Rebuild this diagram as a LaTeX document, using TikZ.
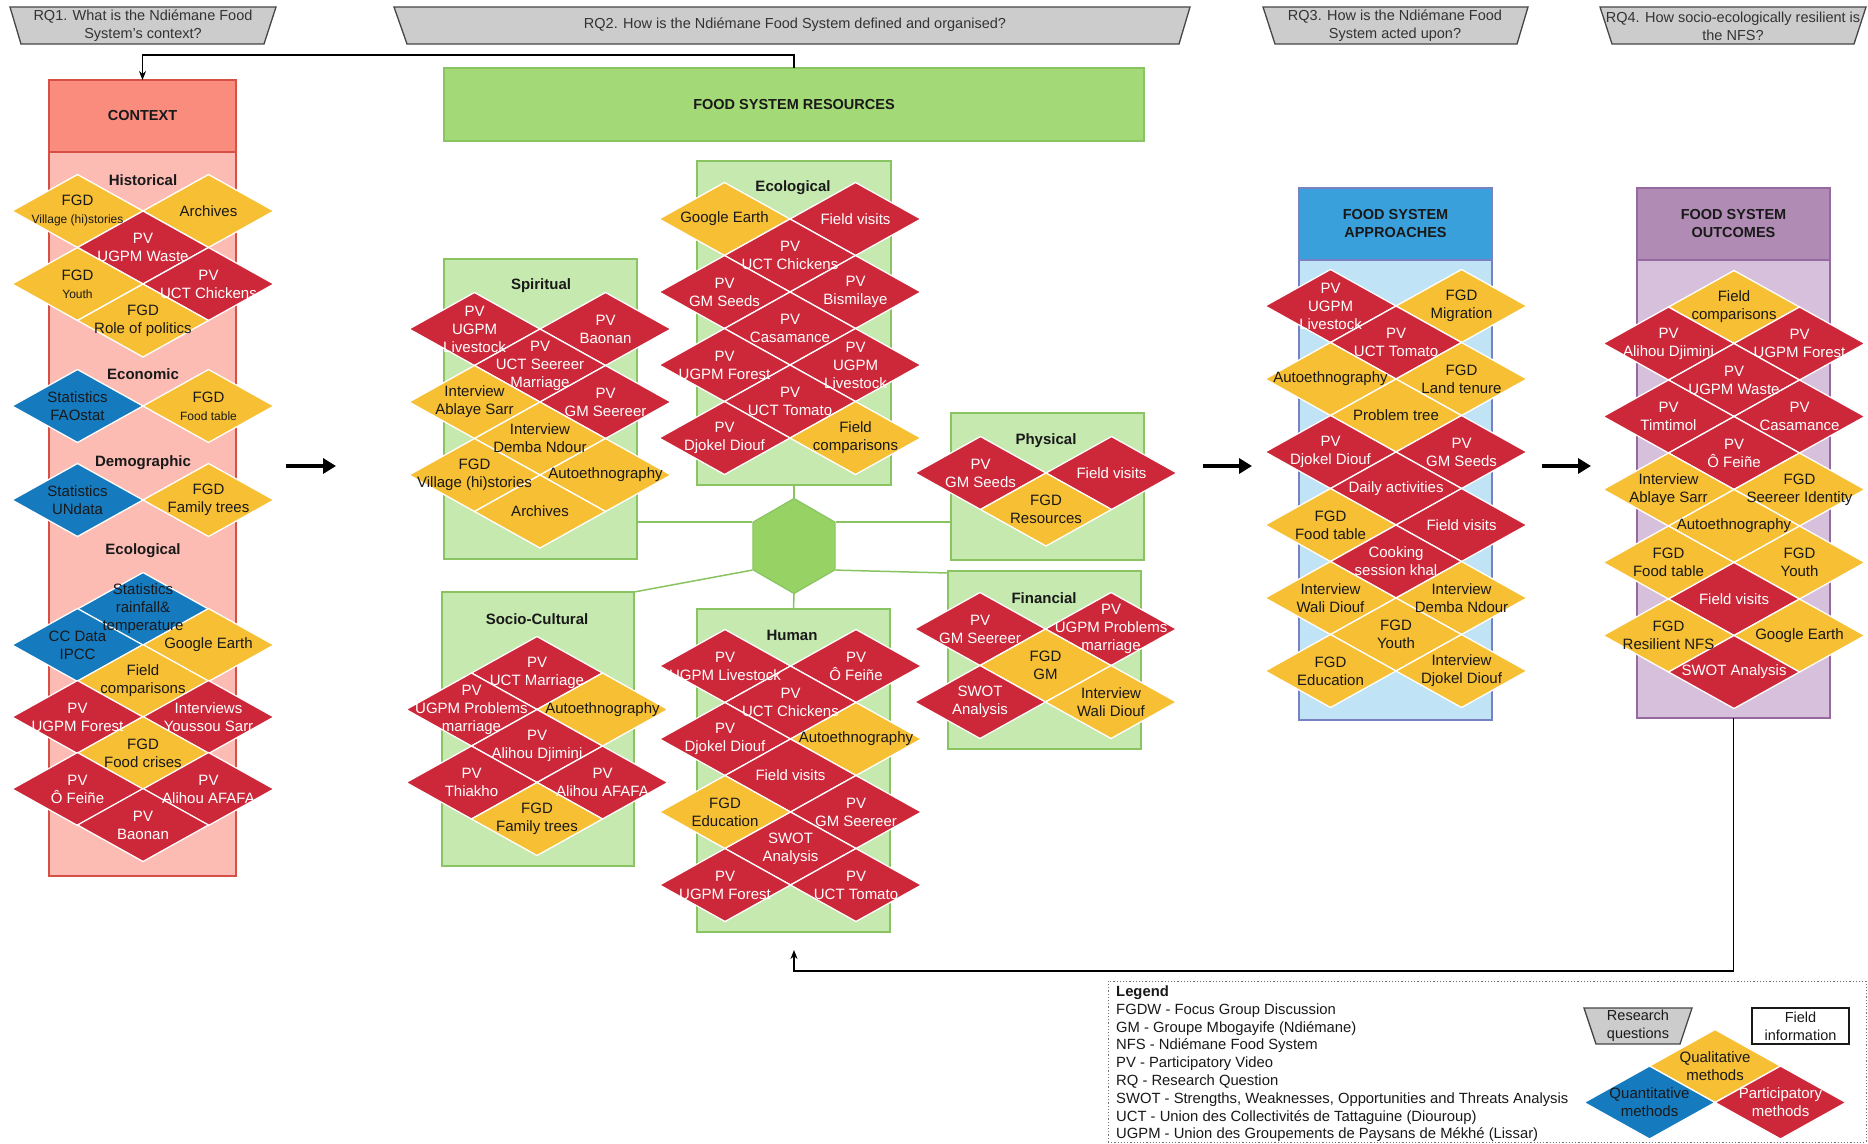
\documentclass[tikz,border=0pt]{standalone}
\usepackage{fontspec}
\setmainfont{Liberation Sans}
\usetikzlibrary{arrows.meta,shapes.geometric}
\pgfdeclarelayer{bg}\pgfdeclarelayer{dia}
\pgfsetlayers{bg,dia,main}
\definecolor{cy}{RGB}{246,191,52}
\definecolor{cr}{RGB}{204,40,58}
\definecolor{cb}{RGB}{22,122,190}
\definecolor{ink}{RGB}{25,25,25}
\definecolor{ctxh}{RGB}{249,140,125}
\definecolor{ctxb}{RGB}{252,188,180}
\definecolor{ctxd}{RGB}{215,80,70}
\definecolor{grh}{RGB}{163,217,119}
\definecolor{grl}{RGB}{198,233,176}
\definecolor{grd}{RGB}{138,196,98}
\definecolor{hexf}{RGB}{150,210,100}
\definecolor{aph}{RGB}{57,160,220}
\definecolor{apb}{RGB}{192,228,246}
\definecolor{apd}{RGB}{120,130,195}
\definecolor{ouh}{RGB}{176,140,180}
\definecolor{oub}{RGB}{215,192,220}
\definecolor{oud}{RGB}{150,105,160}
\definecolor{rqf}{RGB}{204,204,204}
\definecolor{rqd}{RGB}{70,70,70}
\newcommand\fs[2]{\fontsize{#1}{#2}\selectfont}
\newcommand\sm[1]{{\fs{12}{14}#1}}
\newcommand\dmd[6]{%
  \begin{pgfonlayer}{dia}
  \fill[#1, draw=white, line width=1.3pt] ({#4-65.5},#5) -- (#4,{#5-36.5}) -- ({#4+65.5},#5) -- (#4,{#5+36.5}) -- cycle;
  \end{pgfonlayer}
  \node[dtext, text=#2] (#3) at (#4,#5) {#6};}
\newcommand\qlm[4]{\dmd{cy}{ink}{#1}{#2}{#3}{#4}}
\newcommand\ptm[4]{\dmd{cr}{white}{#1}{#2}{#3}{#4}}
\newcommand\qnm[4]{\dmd{cb}{ink}{#1}{#2}{#3}{#4}}
\begin{document}
\begin{tikzpicture}[x=1pt,y=-1pt,
  dtext/.style={font=\fs{15}{18}, align=center, inner sep=0pt},
  lab/.style={font=\bfseries\fs{15}{18}, inner sep=0pt, text=ink},
  box/.style={rectangle, inner sep=0pt, outer sep=0pt, line width=1.2pt},
  gbox/.style={box, fill=grl, draw=grd},
  hdr/.style={font=\bfseries\fs{14.5}{18}, align=center, text=ink},
  rq/.style={fill=rqf, draw=rqd, line width=1.3pt},
  rqt/.style={font=\fs{14.5}{18}, align=center, text=black!80, inner sep=0pt},
  conn/.style={draw=grd, line width=1.5pt},
  bigarrow/.style={line width=4.5pt, -{Triangle[length=13pt,width=15pt]}},
  thinarrow/.style={line width=1.5pt, -{Stealth[length=9pt,width=7pt]}}
]
\useasboundingbox (0,0) rectangle (1868,1143);
\begin{pgfonlayer}{bg}
\fill[white] (0,0) rectangle (1868,1143);
% context
\node[box, fill=ctxb, draw=ctxd, minimum width=187, minimum height=724] (ctxbody) at (142.5,514) {};
\node[box, fill=ctxh, draw=ctxd, minimum width=187, minimum height=72, hdr] (ctx) at (142.5,116) {CONTEXT};
% resources
\node[box, fill=grh, draw=grd, minimum width=700, minimum height=73, hdr] (res) at (794,104.5) {FOOD SYSTEM RESOURCES};
\node[gbox, minimum width=193, minimum height=300] (spirit) at (540.5,409) {};
\node[gbox, minimum width=194, minimum height=324] (eco) at (794,323) {};
\node[gbox, minimum width=193, minimum height=147] (phys) at (1047.5,486.5) {};
\node[gbox, minimum width=193, minimum height=178] (fin) at (1044.5,660) {};
\node[gbox, minimum width=192, minimum height=274] (socio) at (538,729) {};
\node[gbox, minimum width=193, minimum height=323] (human) at (793.5,770.5) {};
% approaches
\node[box, fill=apb, draw=apd, minimum width=193, minimum height=460] (apbody) at (1395.5,490) {};
\node[box, fill=aph, draw=apd, minimum width=193, minimum height=72, hdr] (ap) at (1395.5,224) {FOOD SYSTEM\\APPROACHES};
% outcomes
\node[box, fill=oub, draw=oud, minimum width=193, minimum height=458] (outbody) at (1733.5,489) {};
\node[box, fill=ouh, draw=oud, minimum width=193, minimum height=72, hdr] (out) at (1733.5,224) {FOOD SYSTEM\\OUTCOMES};
\end{pgfonlayer}

% hexagon and its connectors
\node[regular polygon, regular polygon sides=6, shape border rotate=30, minimum size=95pt, inner sep=0pt, fill=hexf, draw=grd, line width=1.2pt] (hex) at (794,546) {};
\begin{pgfonlayer}{bg}
\draw[conn] (spirit.east |- hex.150) -- (hex.150);
\draw[conn] (hex.30) -- (phys.west |- hex.30);
\draw[conn] (hex.330) -- ([yshift=-2pt]fin.north west);
\draw[conn] (hex.210) -- (socio.north east);
\draw[conn] (hex.north) -- (eco.south);
\draw[conn] (hex.south) -- (human.north);
\end{pgfonlayer}

% research questions
\draw[rq] (10,7) -- (276,7) -- (264,44) -- (21,44) -- cycle;
\node[rqt] (rq1) at (143,26) {RQ1. What is the Ndiémane Food\\System's context?};
\draw[rq] (394,7) -- (1190,7) -- (1179,44) -- (407,44) -- cycle;
\node[rqt] (rq2) at (795,25) {RQ2. How is the Ndiémane Food System defined and organised?};
\draw[rq] (1263,7) -- (1528,7) -- (1517,44) -- (1275,44) -- cycle;
\node[rqt] (rq3) at (1395,26) {RQ3. How is the Ndiémane Food\\System acted upon?};
\draw[rq] (1600,7) -- (1866,7) -- (1854,44) -- (1612,44) -- cycle;
\node[rqt] (rq4) at (1733,26) {RQ4. How socio-ecologically resilient is\\the NFS?};

% context content
\node[lab] (lhist) at (143,180) {Historical};
\qlm{c1}{77.5}{211}{FGD\\\sm{Village (hi)stories}}
\qlm{c2}{208.5}{211}{Archives}
\ptm{c3}{143}{247.5}{PV\\UGPM Waste}
\qlm{c4}{77.5}{284}{FGD\\\sm{Youth}}
\ptm{c5}{208.5}{284}{PV\\UCT Chickens}
\qlm{c6}{143}{320.5}{FGD\\Role of politics}
\node[lab] (lecon) at (143,374) {Economic};
\qnm{c7}{77.5}{406}{Statistics\\FAOstat}
\qlm{c8}{208.5}{406}{FGD\\\sm{Food table}}
\node[lab] (ldemo) at (143,463) {Demographic};
\qnm{c9}{77.5}{500}{Statistics\\UNdata}
\qlm{c10}{208.5}{500}{FGD\\Family trees}
\node[lab] (lecol) at (143,551) {Ecological};
\qnm{c11}{143}{609}{Statistics\\rainfall\&\\temperature}
\qnm{c12}{77.5}{645}{CC Data\\IPCC}
\qlm{c13}{208.5}{645}{Google Earth}
\qlm{c14}{143}{681}{Field\\comparisons}
\ptm{c15}{77.5}{717}{PV\\UGPM Forest}
\ptm{c16}{208.5}{717}{Interviews\\Youssou Sarr}
\qlm{c17}{143}{753}{FGD\\Food crises}
\ptm{c18}{77.5}{789}{PV\\Ô Feiñe}
\ptm{c19}{208.5}{789}{PV\\Alihou AFAFA}
\ptm{c20}{143}{825}{PV\\Baonan}

% spiritual
\node[lab] (lspir) at (541,286) {Spiritual};
\ptm{s1}{474.5}{329}{PV\\UGPM\\Livestock}
\ptm{s2}{605.5}{329}{PV\\Baonan}
\ptm{s3}{540}{365.5}{PV\\UCT Seereer\\Marriage}
\qlm{s4}{474.5}{402}{Interview\\Ablaye Sarr}
\ptm{s5}{605.5}{402}{PV\\GM Seereer}
\qlm{s6}{540}{438.5}{Interview\\Demba Ndour}
\qlm{s7}{474.5}{475}{FGD\\Village (hi)stories}
\qlm{s8}{605.5}{475}{Autoethnography}
\qlm{s9}{540}{511.5}{Archives}

% ecological (resources)
\node[lab] (leco) at (793,188) {Ecological};
\qlm{e1}{724.5}{219}{Google Earth}
\ptm{e2}{855.5}{219}{Field visits}
\ptm{e3}{790}{255.5}{PV\\UCT Chickens}
\ptm{e4}{724.5}{292}{PV\\GM Seeds}
\ptm{e5}{855.5}{292}{PV\\Bismilaye}
\ptm{e6}{790}{328.5}{PV\\Casamance}
\ptm{e7}{724.5}{365}{PV\\UGPM Forest}
\ptm{e8}{855.5}{365}{PV\\UGPM\\Livestock}
\ptm{e9}{790}{401.5}{PV\\UCT Tomato}
\ptm{e10}{724.5}{438}{PV\\Djokel Diouf}
\qlm{e11}{855.5}{438}{Field\\comparisons}

% physical
\node[lab] (lphys) at (1046,441) {Physical};
\ptm{p1}{980.5}{473}{PV\\GM Seeds}
\ptm{p2}{1111.5}{473}{Field visits}
\qlm{p3}{1046}{509.5}{FGD\\Resources}

% financial
\node[lab] (lfin) at (1044,598) {Financial};
\ptm{f1}{980}{629}{PV\\GM Seereer}
\ptm{f2}{1111}{629}{PV\\UGPM Problems\\marriage}
\qlm{f3}{1045.5}{665.5}{FGD\\GM}
\ptm{f4}{980}{702}{SWOT\\Analysis}
\qlm{f5}{1111}{702}{Interview\\Wali Diouf}

% socio-cultural
\node[lab] (lsoc) at (537,619) {Socio-Cultural};
\ptm{o1}{537}{673}{PV\\UCT Marriage}
\ptm{o2}{471.5}{709.5}{PV\\UGPM Problems\\marriage}
\qlm{o3}{602.5}{709.5}{Autoethnography}
\ptm{o4}{537}{746}{PV\\Alihou Djimini}
\ptm{o5}{471.5}{782.5}{PV\\Thiakho}
\ptm{o6}{602.5}{782.5}{PV\\Alihou AFAFA}
\qlm{o7}{537}{819}{FGD\\Family trees}

% human
\node[lab] (lhum) at (792,635) {Human};
\ptm{h1}{725}{666}{PV\\UGPM Livestock}
\ptm{h2}{856}{666}{PV\\Ô Feiñe}
\ptm{h3}{790.5}{702.5}{PV\\UCT Chickens}
\ptm{h4}{725}{739}{PV\\Djokel Diouf}
\qlm{h5}{856}{739}{Autoethnography}
\ptm{h6}{790.5}{775.5}{Field visits}
\qlm{h7}{725}{812}{FGD\\Education}
\ptm{h8}{856}{812}{PV\\GM Seereer}
\ptm{h9}{790.5}{848.5}{SWOT\\Analysis}
\ptm{h10}{725}{885}{PV\\UGPM Forest}
\ptm{h11}{856}{885}{PV\\UCT Tomato}

% approaches
\ptm{a1}{1330.5}{306}{PV\\UGPM\\Livestock}
\qlm{a2}{1461.5}{306}{FGD\\Migration}
\ptm{a3}{1396}{342.5}{PV\\UCT Tomato}
\qlm{a4}{1330.5}{379}{Autoethnography}
\qlm{a5}{1461.5}{379}{FGD\\Land tenure}
\qlm{a6}{1396}{415.5}{Problem tree}
\ptm{a7}{1330.5}{452}{PV\\Djokel Diouf}
\ptm{a8}{1461.5}{452}{PV\\GM Seeds}
\ptm{a9}{1396}{488.5}{Daily activities}
\qlm{a10}{1330.5}{525}{FGD\\Food table}
\ptm{a11}{1461.5}{525}{Field visits}
\ptm{a12}{1396}{561.5}{Cooking\\session khal}
\qlm{a13}{1330.5}{598}{Interview\\Wali Diouf}
\qlm{a14}{1461.5}{598}{Interview\\Demba Ndour}
\qlm{a15}{1396}{634.5}{FGD\\Youth}
\qlm{a16}{1330.5}{671}{FGD\\Education}
\qlm{a17}{1461.5}{671}{Interview\\Djokel Diouf}

% outcomes
\qlm{u1}{1734}{307}{Field\\comparisons}
\ptm{u2}{1668.5}{343.5}{PV\\Alihou Djimini}
\ptm{u3}{1799.5}{343.5}{PV\\UGPM Forest}
\ptm{u4}{1734}{380}{PV\\UGPM Waste}
\ptm{u5}{1668.5}{416.5}{PV\\Timtimol}
\ptm{u6}{1799.5}{416.5}{PV\\Casamance}
\ptm{u7}{1734}{453}{PV\\Ô Feiñe}
\qlm{u8}{1668.5}{489.5}{Interview\\Ablaye Sarr}
\qlm{u9}{1799.5}{489.5}{FGD\\Seereer Identity}
\qlm{u10}{1734}{526}{Autoethnography}
\qlm{u11}{1668.5}{562.5}{FGD\\Food table}
\qlm{u12}{1799.5}{562.5}{FGD\\Youth}
\ptm{u13}{1734}{599}{Field visits}
\qlm{u14}{1668.5}{635.5}{FGD\\Resilient NFS}
\qlm{u15}{1799.5}{635.5}{Google Earth}
\ptm{u16}{1734}{672}{SWOT Analysis}

% arrows
\draw[thinarrow] (res.north) -- ++(0,-13) -| (ctx.north);
\coordinate (fbend) at (794,950);
\draw[thinarrow] (outbody.south) -- ++(0,253) -| (fbend);
\coordinate (b1s) at (286,466); \coordinate (b1e) at (336,466);
\coordinate (b2s) at (1203,466); \coordinate (b2e) at (1252,466);
\coordinate (b3s) at (1542,466); \coordinate (b3e) at (1591,466);
\draw[bigarrow] (b1s) -- (b1e);
\draw[bigarrow] (b2s) -- (b2e);
\draw[bigarrow] (b3s) -- (b3e);

% legend
\node[box, draw=black!55, dotted, line width=1pt, minimum width=758, minimum height=161] (legbox) at (1487,1061.5) {};
\node[anchor=north west, align=left, inner sep=0pt, font=\fs{14.8}{17.8}, text=ink] (legtxt) at (1116,985.5) {\textbf{Legend}\\
FGDW - Focus Group Discussion\\
GM - Groupe Mbogayife (Ndiémane)\\
NFS - Ndiémane Food System\\
PV - Participatory Video\\
RQ - Research Question\\
SWOT - Strengths, Weaknesses, Opportunities and Threats Analysis\\
UCT - Union des Collectivités de Tattaguine (Diouroup)\\
UGPM - Union des Groupements de Paysans de Mékhé (Lissar)};
\draw[rq] (1584,1008) -- (1692,1008) -- (1680,1044) -- (1596,1044) -- cycle;
\node[rqt, text=ink] (legrq) at (1638,1026) {Research\\questions};
\node[box, draw=ink, fill=white, line width=1.3pt, minimum width=97, minimum height=36, font=\fs{14.5}{18}, align=center, text=ink] (legfi) at (1800.5,1026) {Field\\information};
\qlm{lq1}{1715}{1066}{Qualitative\\methods}
\qnm{lq2}{1649.5}{1102.5}{Quantitative\\methods}
\ptm{lq3}{1780.5}{1102.5}{Participatory\\methods}
\end{tikzpicture}
\end{document}
